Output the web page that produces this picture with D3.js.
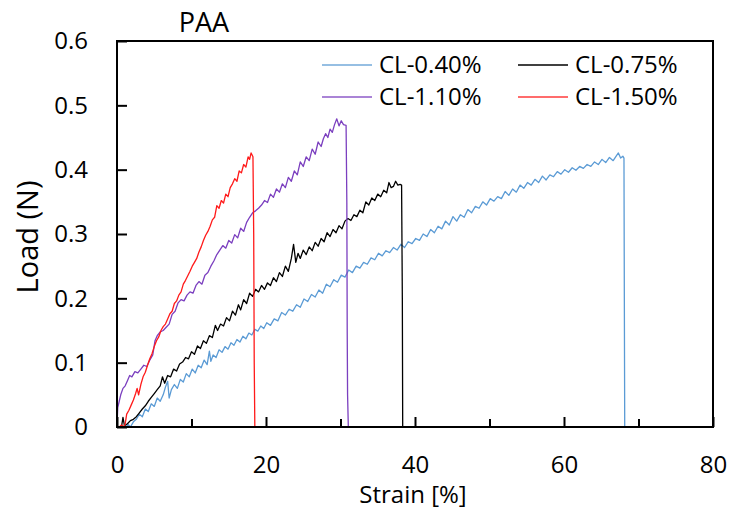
<!DOCTYPE html>
<html>
<head>
<meta charset="utf-8">
<script src="https://cdn.jsdelivr.net/npm/d3@7/dist/d3.min.js"></script>
<style>
  html, body { margin: 0; padding: 0; background: #fff; }
  svg { display: block; font-family: "Open Sans", "DejaVu Sans", sans-serif; }
</style>
</head>
<body>
<svg id="chart" width="732" height="510"></svg>
<script>
// ---------- DATA ----------
const chartTitle = "PAA";
const xTitle = "Strain [%]";
const yTitle = "Load (N)";
const seriesNames = ["CL-0.40%", "CL-0.75%", "CL-1.10%", "CL-1.50%"];
const xTickValues = [0, 20, 40, 60, 80];
const xMinorTicks = [10, 30, 50, 70];
const yTickValues = [0, 0.1, 0.2, 0.3, 0.4, 0.5, 0.6];

// [strain %, load N]
const cl040 = [
 [1.2,0.000],[1.5,0.004],[1.8,0.000],[2.2,0.008],[2.6,0.012],[3.0,0.020],[3.4,0.016],[3.8,0.028],
 [4.2,0.024],[4.6,0.036],[5.0,0.032],[5.4,0.045],[5.8,0.040],[6.2,0.050],[6.5,0.062],[6.8,0.071],
 [7.0,0.045],[7.3,0.058],[7.7,0.066],[8.1,0.060],[8.5,0.074],[8.9,0.070],[9.3,0.083],[9.7,0.078],
 [10.1,0.090],[10.5,0.084],[10.9,0.096],[11.3,0.092],[11.7,0.104],[12.1,0.097],[12.4,0.118],[12.6,0.102],
 [12.9,0.112],[13.3,0.108],[13.7,0.120],[14.1,0.116],[14.5,0.125],[14.9,0.121],[15.3,0.131],[15.7,0.127],
 [16.1,0.136],[16.5,0.132],[16.9,0.141],[17.3,0.137],[17.7,0.146],[18.1,0.143],[18.5,0.152],[18.9,0.149],
 [19.3,0.157],[19.7,0.153],[20.1,0.162],[20.6,0.158],[21.1,0.168],[21.6,0.165],[22.1,0.178],[22.6,0.174],
 [23.1,0.183],[23.6,0.180],[24.1,0.190],[24.6,0.186],[25.1,0.199],[25.6,0.195],[26.1,0.206],[26.6,0.202],
 [27.1,0.213],[27.6,0.208],[28.1,0.222],[28.6,0.218],[29.1,0.229],[29.6,0.225],[30.1,0.236],[30.6,0.233],
 [31.1,0.244],[31.6,0.240],[32.1,0.250],[32.6,0.247],[33.1,0.256],[33.6,0.253],[34.1,0.263],[34.6,0.260],
 [35.1,0.270],[35.6,0.266],[36.1,0.274],[36.6,0.271],[37.1,0.279],[37.6,0.275],[38.1,0.284],[38.6,0.279],
 [39.1,0.288],[39.6,0.285],[40.1,0.293],[40.6,0.290],[41.1,0.300],[41.6,0.296],[42.1,0.307],[42.6,0.302],
 [43.1,0.312],[43.6,0.308],[44.1,0.320],[44.6,0.314],[45.1,0.327],[45.6,0.320],[46.1,0.330],[46.6,0.326],
 [47.1,0.338],[47.6,0.333],[48.1,0.343],[48.6,0.340],[49.1,0.350],[49.6,0.345],[50.1,0.355],[50.6,0.351],
 [51.1,0.358],[51.6,0.355],[52.1,0.366],[52.6,0.360],[53.1,0.370],[53.6,0.365],[54.1,0.376],[54.6,0.371],
 [55.1,0.380],[55.6,0.376],[56.1,0.385],[56.6,0.380],[57.1,0.390],[57.6,0.384],[58.1,0.392],[58.6,0.389],
 [59.1,0.397],[59.6,0.393],[60.1,0.400],[60.6,0.396],[61.1,0.403],[61.6,0.399],[62.1,0.405],[62.6,0.402],
 [63.1,0.408],[63.6,0.405],[64.1,0.412],[64.6,0.408],[65.1,0.416],[65.6,0.411],[66.1,0.419],[66.6,0.414],
 [67.0,0.421],[67.3,0.426],[67.6,0.418],[67.9,0.421],[68.05,0.418],[68.1,0.200],[68.15,0.000]
];
const cl075 = [
 [0.6,0.000],[0.8,0.015],[1.0,0.002],[1.4,0.005],[1.8,0.010],[2.2,0.012],[2.6,0.016],[3.0,0.022],
 [3.4,0.028],[3.8,0.033],[4.2,0.040],[4.6,0.046],[5.0,0.052],[5.4,0.058],[5.8,0.064],[6.1,0.078],
 [6.4,0.068],[6.8,0.080],[7.2,0.078],[7.6,0.090],[8.0,0.087],[8.4,0.098],[8.8,0.101],[9.2,0.108],
 [9.6,0.106],[10.0,0.117],[10.4,0.113],[10.8,0.126],[11.2,0.122],[11.6,0.134],[12.0,0.130],[12.4,0.142],
 [12.8,0.139],[13.2,0.158],[13.5,0.150],[13.9,0.160],[14.3,0.157],[14.7,0.170],[15.1,0.165],[15.5,0.180],
 [15.9,0.174],[16.3,0.190],[16.6,0.182],[17.0,0.198],[17.4,0.192],[17.8,0.208],[18.2,0.203],[18.6,0.214],
 [19.0,0.210],[19.4,0.220],[19.8,0.214],[20.2,0.224],[20.6,0.220],[21.0,0.232],[21.4,0.226],[21.8,0.240],
 [22.2,0.234],[22.6,0.250],[23.0,0.242],[23.4,0.262],[23.7,0.284],[24.0,0.256],[24.3,0.270],[24.6,0.262],
 [25.0,0.275],[25.4,0.268],[25.8,0.280],[26.2,0.274],[26.6,0.287],[27.0,0.281],[27.4,0.293],[27.8,0.288],
 [28.2,0.302],[28.6,0.296],[29.0,0.307],[29.4,0.302],[29.8,0.313],[30.2,0.308],[30.6,0.320],[31.0,0.324],
 [31.4,0.321],[31.8,0.330],[32.2,0.327],[32.6,0.337],[33.0,0.333],[33.4,0.350],[33.8,0.345],[34.2,0.356],
 [34.6,0.352],[35.0,0.362],[35.4,0.358],[35.8,0.368],[36.2,0.364],[36.5,0.380],[36.8,0.372],[37.1,0.374],
 [37.4,0.382],[37.7,0.376],[38.0,0.377],[38.2,0.376],[38.3,0.200],[38.35,0.000]
];
const cl110 = [
 [0.0,0.000],[0.1,0.030],[0.3,0.040],[0.5,0.050],[0.8,0.060],[1.1,0.064],[1.4,0.072],[1.7,0.080],
 [2.0,0.078],[2.4,0.086],[2.8,0.084],[3.2,0.090],[3.6,0.096],[4.0,0.094],[4.4,0.104],[4.8,0.112],
 [5.1,0.134],[5.4,0.142],[5.8,0.148],[6.2,0.150],[6.6,0.155],[7.0,0.160],[7.4,0.175],[7.8,0.180],
 [8.2,0.193],[8.6,0.198],[9.0,0.196],[9.4,0.205],[9.8,0.210],[10.2,0.208],[10.6,0.220],[11.0,0.226],
 [11.4,0.222],[11.8,0.236],[12.2,0.240],[12.6,0.250],[13.0,0.258],[13.4,0.268],[13.8,0.275],[14.2,0.282],
 [14.6,0.278],[15.0,0.290],[15.4,0.286],[15.8,0.299],[16.2,0.294],[16.6,0.309],[17.0,0.304],[17.4,0.318],
 [17.8,0.326],[18.2,0.333],[18.6,0.336],[19.0,0.340],[19.4,0.345],[19.8,0.352],[20.2,0.349],[20.6,0.362],
 [21.0,0.357],[21.4,0.370],[21.8,0.365],[22.2,0.378],[22.6,0.372],[23.0,0.388],[23.4,0.382],[23.8,0.398],
 [24.2,0.392],[24.6,0.412],[25.0,0.405],[25.4,0.420],[25.8,0.414],[26.2,0.432],[26.6,0.424],[27.0,0.443],
 [27.4,0.436],[27.7,0.448],[28.0,0.456],[28.3,0.450],[28.6,0.463],[28.9,0.458],[29.2,0.470],[29.5,0.479],
 [29.8,0.468],[30.1,0.476],[30.4,0.470],[30.75,0.469],[30.85,0.350],[30.9,0.150],[30.95,0.050],[31.05,0.000]
];
const cl150 = [
 [0.3,0.000],[0.6,0.003],[0.9,0.000],[1.1,0.005],[1.3,0.020],[1.6,0.026],[1.9,0.034],[2.2,0.042],
 [2.5,0.052],[2.7,0.060],[2.9,0.050],[3.2,0.066],[3.5,0.078],[3.8,0.085],[4.1,0.096],[4.4,0.106],
 [4.7,0.114],[5.0,0.125],[5.3,0.134],[5.6,0.140],[5.9,0.150],[6.2,0.156],[6.5,0.160],[6.8,0.168],
 [7.1,0.176],[7.4,0.180],[7.7,0.192],[8.0,0.196],[8.3,0.205],[8.6,0.210],[8.9,0.222],[9.2,0.228],
 [9.5,0.235],[9.8,0.242],[10.1,0.250],[10.4,0.256],[10.7,0.262],[11.0,0.272],[11.3,0.280],[11.6,0.290],
 [11.9,0.298],[12.2,0.304],[12.5,0.312],[12.8,0.322],[13.1,0.326],[13.4,0.344],[13.7,0.340],[14.0,0.352],
 [14.3,0.348],[14.6,0.362],[14.9,0.358],[15.2,0.372],[15.5,0.378],[15.8,0.386],[16.1,0.382],[16.4,0.398],
 [16.7,0.395],[17.0,0.408],[17.3,0.404],[17.6,0.420],[17.8,0.416],[18.0,0.426],[18.25,0.420],[18.35,0.300],
 [18.42,0.100],[18.5,0.000]
];
const seriesData = [cl040, cl075, cl110, cl150];
const seriesColors = ["#5b9bd5", "#000000", "#7b3fbf", "#ff1a1a"];

// ---------- LAYOUT ----------
const svg = d3.select("#chart");
const pLeft = 117, pRight = 713, pTop = 41, pBottom = 427;
const x = d3.scaleLinear().domain([0, 80]).range([pLeft, pRight]);
const y = d3.scaleLinear().domain([0, 0.6]).range([pBottom, pTop]);

svg.append("clipPath").attr("id", "clip")
  .append("rect").attr("x", pLeft).attr("y", pTop).attr("width", pRight - pLeft).attr("height", pBottom - pTop);

const line = d3.line().x(d => x(d[0])).y(d => y(d[1]));
const g = svg.append("g").attr("clip-path", "url(#clip)");
seriesData.forEach((s, i) => {
  g.append("path").datum(s)
    .attr("fill", "none")
    .attr("stroke", seriesColors[i])
    .attr("stroke-width", 1.3)
    .attr("stroke-linejoin", "round")
    .attr("d", line);
});

// frame
svg.append("rect").attr("x", pLeft).attr("y", pTop).attr("width", pRight - pLeft).attr("height", pBottom - pTop)
  .attr("fill", "none").attr("stroke", "#000").attr("stroke-width", 2);

// x axis (ticks inward)
const xAxis = svg.append("g").attr("transform", `translate(0,${pBottom})`)
  .call(d3.axisBottom(x).tickValues(xTickValues).tickSize(-10).tickPadding(29).tickFormat(d3.format("d")));
xAxis.select(".domain").remove();
xAxis.selectAll(".tick line").attr("stroke", "#000").attr("stroke-width", 2);
xAxis.selectAll(".tick text").attr("font-size", 24).attr("fill", "#000").attr("font-family", "Open Sans");
const xMinor = svg.append("g").attr("transform", `translate(0,${pBottom})`)
  .call(d3.axisBottom(x).tickValues(xMinorTicks).tickSize(-8).tickFormat(""));
xMinor.select(".domain").remove();
xMinor.selectAll(".tick line").attr("stroke", "#000").attr("stroke-width", 2);

// y axis (ticks inward)
const yAxis = svg.append("g").attr("transform", `translate(${pLeft},0)`)
  .call(d3.axisLeft(y).tickValues(yTickValues).tickSize(-10).tickPadding(29)
    .tickFormat(d => d === 0 ? "0" : d3.format(".1f")(d)));
yAxis.select(".domain").remove();
yAxis.selectAll(".tick line").attr("stroke", "#000").attr("stroke-width", 2);
yAxis.selectAll(".tick text").attr("font-size", 24).attr("fill", "#000").attr("font-family", "Open Sans");

// titles
svg.append("text").attr("x", 204).attr("y", 32).attr("text-anchor", "middle")
  .attr("font-size", 27).attr("fill", "#000").text(chartTitle);
svg.append("text").attr("x", 413).attr("y", 503).attr("text-anchor", "middle")
  .attr("font-size", 24).attr("fill", "#000").text(xTitle);
svg.append("text").attr("transform", "translate(38,237) rotate(-90)").attr("text-anchor", "middle")
  .attr("font-size", 29).attr("fill", "#000").text(yTitle);

// legend
const legPos = [[322, 65], [518, 65], [322, 97], [518, 97]];
seriesNames.forEach((name, i) => {
  const [lx, ly] = legPos[i];
  svg.append("line").attr("x1", lx).attr("x2", lx + 50).attr("y1", ly).attr("y2", ly)
    .attr("stroke", seriesColors[i]).attr("stroke-width", 1.6).attr("opacity", i === 1 ? 1 : 0.85);
  svg.append("text").attr("x", lx + 57).attr("y", ly + 8).attr("font-size", 24).attr("fill", "#000").text(name);
});
</script>
</body>
</html>
